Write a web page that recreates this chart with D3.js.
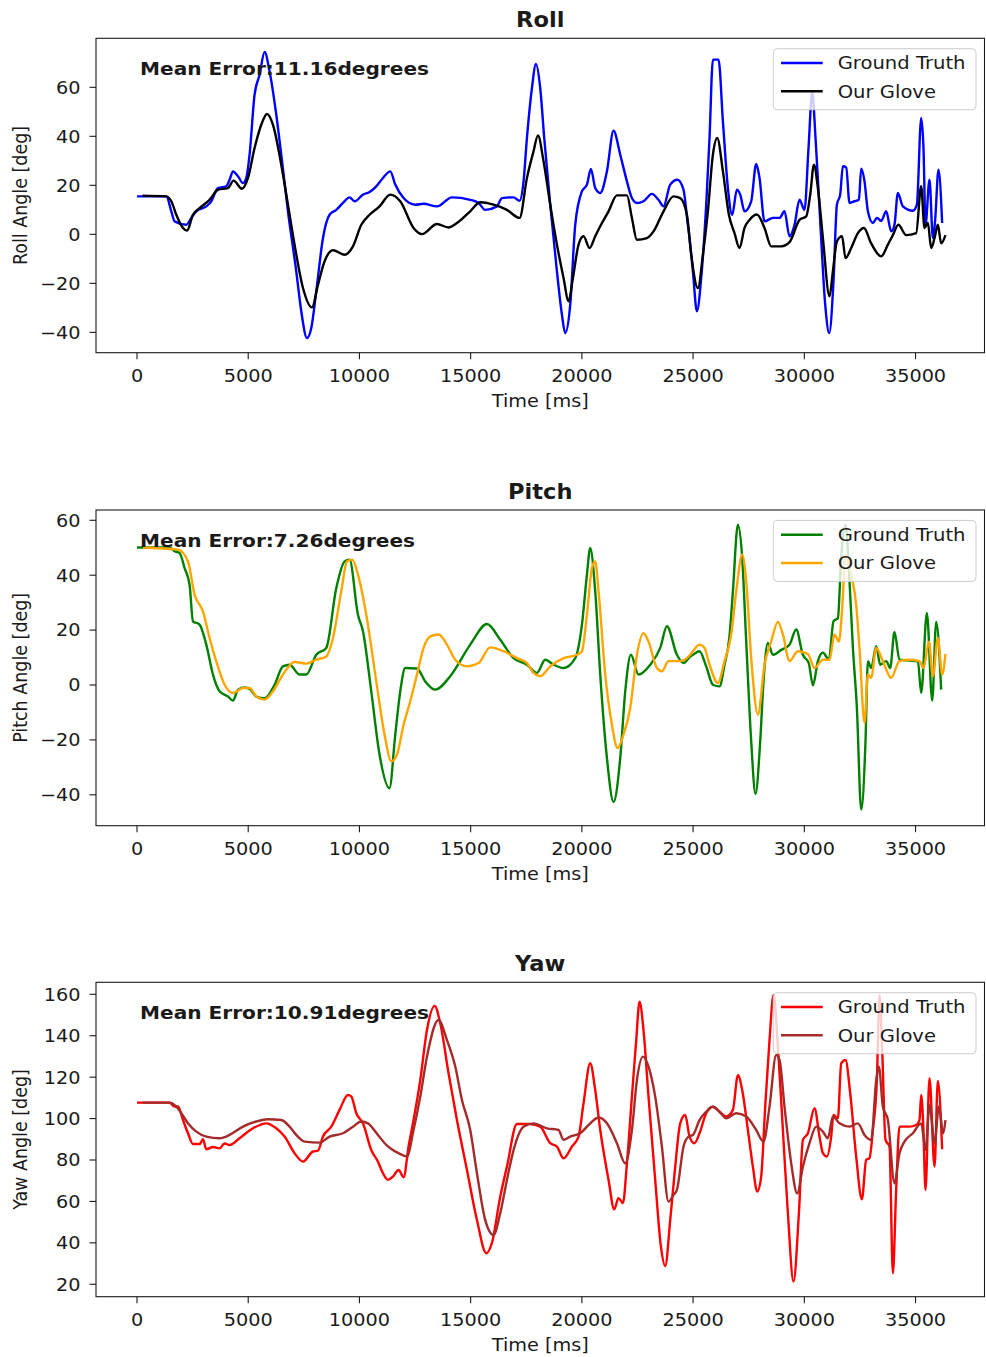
<!DOCTYPE html>
<html>
<head>
<meta charset="utf-8">
<script src="https://cdn.jsdelivr.net/npm/d3@7"></script>
<style>
  body { margin: 0; background: #fff; }
  svg { display: block; }
  text { font-family: "DejaVu Sans", sans-serif; fill: #1a1a1a; }
</style>
</head>
<body>
<svg id="fig" width="986" height="1357"></svg>
<script>
// ---- tick labels -------------------------------------------------------
const timeTicks = [0, 5000, 10000, 15000, 20000, 25000, 30000, 35000];
const rollTicks = [-40, -20, 0, 20, 40, 60];
const pitchTicks = [-40, -20, 0, 20, 40, 60];
const yawTicks = [20, 40, 60, 80, 100, 120, 140, 160];

const seriesNames = ["Ground Truth", "Our Glove"];
const meanErrors = [11.16, 7.26, 10.91];

// ---- series: [time ms, angle deg] --------------------------------------
const rollTruth = [[0,15.5],[1317,15.5],[1542,9.4],[1692,5.3],[2216,3.9],[2441,6.7],[2666,9.4],[3115,11.4],[3340,13.5],[3641,18.9],[4014,19.6],[4163,22.3],[4315,25.7],[4540,23.7],[4765,20.9],[4913,23],[5061,32.5],[5286,57],[5511,65.1],[5736,74.4],[5960,66.5],[6262,48.8],[6486,32.5],[6787,9.4],[7160,-15.1],[7385,-31.4],[7642,-42.3],[7835,-38.2],[8059,-23.3],[8361,-1.5],[8657,8],[8959,10],[9260,12.8],[9556,15.1],[9781,13.5],[10159,16.2],[10455,17.3],[10757,19.6],[11058,23],[11386,25.7],[11611,20.3],[11985,14.8],[12510,12.1],[12884,12.5],[13485,11.4],[14159,15.1],[14982,14.1],[15355,12.8],[15656,10],[16182,11.4],[16407,14.8],[16928,15.1],[17198,13.7],[17378,21.6],[17530,39.3],[17755,59.7],[17935,69.5],[18128,59.7],[18308,39.3],[18578,12.1],[18879,-15.1],[19104,-32.8],[19252,-40.3],[19477,-28.7],[19702,3.9],[20003,17.6],[20228,20.3],[20407,26.7],[20600,18.9],[20826,16.9],[21127,25.7],[21423,42.3],[21725,32.5],[22026,21.6],[22250,14.8],[22475,12.8],[22771,13.5],[23149,16.5],[23446,14.1],[23671,11.4],[23972,20.3],[24300,22.3],[24570,18.2],[24750,5],[24840,-1.5],[24992,-15.1],[25172,-31.4],[25365,-17.8],[25590,12.1],[25739,39.3],[25891,71.3],[26143,71.3],[26341,46.1],[26565,18.9],[26759,8],[26970,18.2],[27119,16.2],[27312,9.4],[27613,13.5],[27838,28.7],[27987,23],[28211,5.3],[28589,6.7],[28885,6.7],[29110,9.4],[29335,-0.8],[29560,3.9],[29784,14.1],[30009,10],[30189,35.2],[30356,58],[30505,39.3],[30716,5.3],[30940,-28.7],[31120,-40.3],[31312,-19.2],[31465,12.1],[31613,16.2],[31735,27.8],[31884,27.3],[32032,12.8],[32257,13.5],[32454,14.1],[32558,26.8],[32707,21.6],[32859,9.4],[33083,4.6],[33263,6.7],[33456,5.5],[33681,9.4],[33906,1.2],[34054,3.9],[34206,16.9],[34431,11.4],[34881,9.6],[35061,12.1],[35254,47.5],[35358,35.2],[35449,3.9],[35628,22.3],[35780,-1.5],[35883,5.9],[36032,26.4],[36198,4.6]];

const rollGlove = [[250,15.8],[1317,15.5],[1542,13.5],[1767,8],[2068,2.6],[2248,1.5],[2517,8],[2814,10.7],[3263,14.1],[3641,18.2],[4090,18.9],[4342,21.9],[4720,18.6],[4989,23],[5286,35.2],[5587,44.7],[5844,49.1],[6113,44.7],[6486,28.4],[6787,12.1],[7084,-4.2],[7462,-21.9],[7866,-29.8],[8136,-20.6],[8433,-11],[8810,-6.5],[9332,-8.3],[9709,-4.9],[10083,3.9],[10455,8],[10905,11.4],[11386,16.2],[11835,13.5],[12433,2.6],[12811,0.1],[13485,4.2],[14006,2.8],[14384,4.6],[14982,9.4],[15431,13.1],[16030,12.1],[16632,10],[17198,6.7],[17530,23],[17827,33.9],[18025,40.4],[18277,29.8],[18578,12.1],[18879,-4.2],[19176,-17.8],[19401,-27.3],[19598,-17.8],[19851,-4.2],[20075,-0.8],[20345,-5.6],[20600,-0.8],[20826,3.3],[21199,9.4],[21576,15.9],[22026,15.9],[22250,6.7],[22475,-2.2],[22925,-1.5],[23221,1.2],[23671,9.4],[24120,15.5],[24421,14.8],[24722,8],[24916,-8.3],[25217,-21.9],[25442,-8.3],[25666,9.4],[25891,32.5],[26085,39.3],[26341,25.7],[26610,8],[26862,0.5],[27087,-5.6],[27312,2.6],[27537,5.9],[27869,8.1],[28211,2.6],[28512,-4.9],[28962,-4.9],[29335,-3.2],[29784,5.9],[30085,7.3],[30266,16.2],[30432,28.4],[30611,18.9],[30836,-1.5],[31133,-25.3],[31285,-15.1],[31465,-2.9],[31696,-0.8],[31853,-9.7],[32107,-5.6],[32409,0.5],[32679,2.6],[33008,-3.7],[33456,-9],[33757,-4.2],[33981,-0.3],[34230,3.9],[34578,-0.3],[35028,0.5],[35254,19.6],[35403,2.6],[35555,4.6],[35705,-5.6],[35855,-1.5],[36003,3.9],[36153,-3.7],[36346,-0.3]];

const pitchTruth = [[0,50.1],[1465,50.1],[1690,48.7],[1915,48.1],[2140,42.6],[2364,36.5],[2517,23.2],[2814,22],[3115,14.7],[3416,3.8],[3713,-2.3],[4090,-4.2],[4315,-5.7],[4540,-1.7],[4837,-0.9],[5061,-1.4],[5362,-4.2],[5736,-4.8],[6185,0.1],[6563,6.8],[6859,7.4],[7309,3.8],[7610,3.8],[8059,11],[8509,13.5],[8959,35.3],[9332,45],[9556,45.6],[9934,25.6],[10159,19.6],[10532,-2.3],[10905,-25.4],[11350,-37.6],[11611,-18.1],[11835,-2.3],[12060,6.2],[12586,6],[12959,1.3],[13409,-1.7],[14083,3.2],[14982,14.7],[15733,22.2],[16330,16.5],[16928,9.8],[17530,7.4],[17980,4.4],[18353,9.2],[18726,7.4],[19176,6.2],[19702,9.8],[20003,22],[20228,40.2],[20376,49.9],[20600,34.1],[20826,3.8],[21127,-26.6],[21423,-42.6],[21725,-26.6],[21950,-2.3],[22205,11],[22547,3.8],[23073,7.4],[23522,13.5],[23824,21.4],[24273,11],[24570,8],[24871,10.4],[24992,11],[25289,12.3],[25590,6.8],[25891,0.1],[26188,-0.5],[26413,7.4],[26637,17.7],[26790,34.1],[27015,58.4],[27208,46.3],[27388,15.9],[27613,-20.5],[27806,-39.7],[28018,-20.5],[28166,1.3],[28363,15.3],[28589,11],[28962,12.8],[29335,14.7],[29636,20.2],[29937,11],[30200,8],[30387,-0.1],[30611,8.7],[30836,11.8],[31105,9.2],[31312,23.2],[31510,24.4],[31658,46.3],[31853,58.4],[32032,37.8],[32185,13.5],[32364,-8.4],[32558,-45.4],[32751,-20.5],[32859,8.7],[33008,6.2],[33233,14.1],[33412,7.4],[33682,8.7],[33861,6.2],[34054,19.3],[34279,9.2],[34728,8.9],[35106,8.7],[35254,-2.9],[35511,26.2],[35750,-5.7],[35929,23],[36153,-1.7]];

const pitchGlove = [[268,50.1],[1843,49.3],[2292,45],[2589,32.9],[2966,26.8],[3263,17.1],[3564,8.6],[3938,0.1],[4315,-2.9],[4765,-1.1],[5061,-1.1],[5362,-4.2],[5736,-5.3],[6113,-2.3],[6563,3.8],[7084,8.4],[7610,7.8],[8059,9.2],[8509,10.4],[8810,17.1],[9183,34.1],[9440,45],[9678,45.6],[9934,40.2],[10307,25.6],[10757,1.3],[11130,-18.1],[11431,-27.8],[11687,-25.4],[11985,-14.5],[12286,-5.9],[12586,3.8],[12884,13.5],[13184,17.7],[13558,18.4],[13935,14.7],[14308,9.2],[14834,6.8],[15355,8],[15881,13.7],[16480,12.3],[17081,9.8],[17530,8],[17827,4.4],[18128,3.2],[18578,6.8],[19176,9.8],[19778,11],[20003,12.3],[20228,25.6],[20452,42.6],[20600,45],[20750,34.1],[21051,3.8],[21351,-14.5],[21603,-23],[21873,-18.1],[22174,-8.4],[22475,11],[22771,18.9],[22996,15.8],[23374,6.2],[23598,5],[23896,8.7],[24421,8.7],[24871,11],[24992,12.3],[25289,14.7],[25514,13.5],[25739,7.4],[26116,0.7],[26413,8.7],[26714,18.4],[26939,34.1],[27208,47.5],[27388,37.8],[27613,9.8],[27914,-10.8],[28211,7.4],[28512,15.9],[28813,23],[29037,18.4],[29335,8.7],[29712,12.3],[30161,11.3],[30459,6.2],[30836,9.2],[31133,9.2],[31358,18.4],[31555,15.8],[31703,28],[31853,47.5],[32107,40.2],[32332,29.2],[32481,13.5],[32707,-13.8],[32859,3.8],[33008,2.6],[33233,13.5],[33531,8.7],[33906,2.6],[34279,8.7],[34728,9.2],[35178,8.7],[35358,6.2],[35601,15.8],[35780,3.2],[36003,17.1],[36198,3.8],[36346,11.3]];

const yawTruth = [[0,107.7],[1465,107.7],[1690,105.8],[1843,105.8],[2068,99.3],[2292,92.9],[2517,87.7],[2814,87.7],[2966,90],[3115,85.2],[3416,86.3],[3713,85.6],[3938,88],[4163,87.2],[4612,90.5],[5214,95.3],[5812,97.7],[6262,95.3],[6635,91.3],[7084,83.3],[7462,79.2],[7911,84.1],[8136,84.5],[8361,91.3],[8734,96.1],[9107,104.2],[9485,111.4],[9633,110.7],[9858,102.6],[10159,97.7],[10532,84.8],[10833,79.2],[11058,73.6],[11282,70.4],[11507,72],[11760,75.2],[11985,71.7],[12210,86.5],[12433,99.3],[12735,118.6],[13036,142.8],[13379,154.4],[13634,146],[14006,121.9],[14384,99.3],[14834,75.2],[15283,51],[15702,35],[15952,39.8],[16330,62.3],[16632,76.8],[17081,97.4],[17679,97.4],[18128,96.1],[18578,88.1],[18879,86.5],[19176,80.8],[19553,86.5],[19851,91.3],[20075,107.4],[20376,126.7],[20600,113.8],[20826,94.5],[21199,70.4],[21455,56.2],[21648,61.6],[21846,59.2],[22026,78.4],[22250,110.6],[22444,137.9],[22592,156.4],[22771,142.7],[22996,110.6],[23297,70.4],[23554,38.2],[23748,28.8],[23972,51],[24197,76.8],[24421,97.7],[24646,101.7],[24840,91.3],[25065,88.1],[25289,92.9],[25590,102.6],[25891,105.7],[26188,103.3],[26489,101],[26790,104.2],[27015,121],[27208,113.8],[27464,94.5],[27688,76.8],[27883,64.8],[28062,72],[28242,105.8],[28436,137.9],[28616,159.7],[28813,134.8],[29037,94.5],[29262,54.3],[29514,21.3],[29757,54.3],[29937,89.7],[30161,92.9],[30459,105],[30683,91.3],[30836,83.3],[31016,81.7],[31208,91.3],[31312,101.7],[31510,100.1],[31658,126.7],[31853,128.3],[32064,112.2],[32332,81.7],[32589,61],[32782,80.1],[32929,80.9],[33083,94.5],[33263,118.6],[33380,159.7],[33501,133.1],[33650,89.7],[33830,86.5],[33982,25.3],[34130,65.6],[34279,96.1],[34728,96.1],[35028,96.9],[35178,99.3],[35254,111.4],[35350,96.1],[35449,65.5],[35628,119.5],[35855,76.8],[36003,118.2],[36198,85.2]];

const yawGlove = [[268,107.7],[1465,107.7],[1767,105.8],[1992,102.6],[2292,97.7],[2666,93.7],[3115,91.3],[3713,90.5],[4163,92.1],[4765,96.1],[5362,98.6],[5888,99.7],[6486,99.3],[6859,96.1],[7160,92.1],[7534,88.9],[8208,88.4],[8657,91.3],[9260,92.9],[9709,96.1],[10083,98.6],[10383,97.7],[10833,92.1],[11206,87.3],[11386,85.7],[11760,83.3],[12136,81.7],[12433,94.5],[12735,110.6],[13036,129.9],[13558,147.6],[13935,137.9],[14308,125.1],[14608,109],[14982,94.5],[15283,73.6],[15656,51],[16030,43.8],[16330,54.3],[16632,70.4],[16928,84.8],[17378,96.1],[17827,97.7],[18428,95.3],[18951,94.5],[19176,89.7],[19477,91.3],[19926,92.9],[20376,97.7],[20750,100.5],[21127,97.7],[21576,88.1],[21950,78.4],[22250,94.5],[22475,118.6],[22745,129.9],[22996,125.1],[23297,110.6],[23598,86.5],[23896,59.9],[24120,63.1],[24273,65.6],[24570,86.5],[24795,91.3],[24992,92.1],[25289,99.3],[25590,103.3],[25891,105.7],[26188,103.3],[26489,100.1],[26939,102.6],[27388,101],[27838,94.5],[28166,88.9],[28436,105.8],[28736,130.7],[28885,128.3],[29110,105.8],[29411,78.4],[29681,63.9],[29937,76.8],[30234,88.1],[30535,96.1],[30836,93.7],[31060,90.5],[31285,101],[31582,97.7],[32032,96.1],[32409,97.7],[32707,92.1],[33008,89.7],[33233,118.6],[33353,125.1],[33531,105.8],[33757,99.3],[34054,68.8],[34279,83.3],[34503,88.9],[34881,92.9],[35254,97.7],[35449,84.8],[35628,106.5],[35855,88.1],[36048,105.8],[36243,92.9],[36346,99.3]];

// ---- layout --------------------------------------------------------------
const svg = d3.select("#fig");
const plotLeft = 96, plotRight = 984.5;
const textStretch = 1.1;      // horizontal widening of all glyphs
const fontSize = 17.5;

const panels = [
  { title: "Roll",  ylabel: "Roll Angle [deg]",  top: 38.3,  bottom: 352.7,  yDomain: [-48.3, 80.0],  ticks: rollTicks,  truth: rollTruth,  glove: rollGlove,  colors: ["#0000ff", "#000000"], err: meanErrors[0] },
  { title: "Pitch", ylabel: "Pitch Angle [deg]", top: 510.0, bottom: 825.7,  yDomain: [-51.26, 63.75], ticks: pitchTicks, truth: pitchTruth, glove: pitchGlove, colors: ["#008000", "#ffa500"], err: meanErrors[1] },
  { title: "Yaw",   ylabel: "Yaw Angle [deg]",   top: 982.3, bottom: 1296.7, yDomain: [14.0, 165.8],  ticks: yawTicks,   truth: yawTruth,   glove: yawGlove,   colors: ["#ff0000", "#a52a2a"], err: meanErrors[2] }
];

const x = d3.scaleLinear().domain([-1843, 38101]).range([plotLeft, plotRight]);

// text helper: places a string at (px, py) with a horizontal stretch
function label(g, str, px, py, opts = {}) {
  const rot = opts.rotate ? ` rotate(${opts.rotate})` : "";
  return g.append("text")
    .attr("transform", `translate(${px},${py}) scale(${opts.stretch || textStretch},1)${rot}`)
    .attr("text-anchor", opts.anchor || "start")
    .style("font-size", (opts.size || fontSize) + "px")
    .style("font-weight", opts.bold ? "bold" : "normal")
    .text(str);
}

panels.forEach((p, i) => {
  const g = svg.append("g").attr("class", "panel-" + p.title.toLowerCase());
  const y = d3.scaleLinear().domain(p.yDomain).range([p.bottom, p.top]);
  const clipId = "clip-" + i;
  svg.append("clipPath").attr("id", clipId)
    .append("rect").attr("x", plotLeft).attr("y", p.top)
    .attr("width", plotRight - plotLeft).attr("height", p.bottom - p.top);

  // series
  const line = d3.line().x(d => x(d[0])).y(d => y(d[1])).curve(d3.curveMonotoneX);
  const lines = g.append("g").attr("clip-path", `url(#${clipId})`);
  [p.truth, p.glove].forEach((data, k) => {
    lines.append("path").datum(data)
      .attr("d", line)
      .attr("fill", "none")
      .attr("stroke", p.colors[k])
      .attr("stroke-width", 2.4)
      .attr("stroke-linejoin", "round");
  });

  // frame
  g.append("rect").attr("x", plotLeft).attr("y", p.top)
    .attr("width", plotRight - plotLeft).attr("height", p.bottom - p.top)
    .attr("fill", "none").attr("stroke", "#1a1a1a").attr("stroke-width", 1.1);

  // x axis ticks
  const xa = g.append("g");
  timeTicks.forEach(t => {
    xa.append("line").attr("x1", x(t)).attr("x2", x(t))
      .attr("y1", p.bottom).attr("y2", p.bottom + 6.5)
      .attr("stroke", "#1a1a1a").attr("stroke-width", 1.1);
    label(xa, d3.format("d")(t), x(t), p.bottom + 29.6, { anchor: "middle" });
  });
  label(xa, "Time [ms]", (plotLeft + plotRight) / 2, p.bottom + 54.5, { anchor: "middle" });

  // y axis ticks
  const ya = g.append("g");
  p.ticks.forEach(v => {
    ya.append("line").attr("x1", plotLeft - 6.5).attr("x2", plotLeft)
      .attr("y1", y(v)).attr("y2", y(v))
      .attr("stroke", "#1a1a1a").attr("stroke-width", 1.1);
    label(ya, v < 0 ? "\u2212" + Math.abs(v) : String(v), 80.5, y(v) + 6.4, { anchor: "end" });
  });
  label(ya, p.ylabel, 26.5, (p.top + p.bottom) / 2, { anchor: "middle", rotate: -90 });

  // title
  label(g, p.title, (plotLeft + plotRight) / 2, p.top - 11.5, { anchor: "middle", bold: true, size: 20.5 });

  // mean error annotation
  label(g, "Mean Error:" + p.err.toFixed(2) + "degrees", plotLeft + 44, p.top + 36.5, { bold: true, size: 17.8, stretch: 1.13 });

  // legend
  const lg = g.append("g");
  const lx = plotRight - 211.2, ly = p.top + 10.4;
  lg.append("rect").attr("x", lx).attr("y", ly).attr("width", 202.7).attr("height", 61)
    .attr("rx", 4).attr("fill", "#ffffff").attr("fill-opacity", 0.8)
    .attr("stroke", "#cccccc").attr("stroke-width", 1);
  seriesNames.forEach((name, k) => {
    const yy = ly + 14.3 + k * 28.3;
    lg.append("line").attr("x1", lx + 7.7).attr("x2", lx + 49.4)
      .attr("y1", yy).attr("y2", yy)
      .attr("stroke", p.colors[k]).attr("stroke-width", 2.4);
    label(lg, name, lx + 64.4, yy + 6.4, { size: 17.8 });
  });
});
</script>
</body>
</html>
